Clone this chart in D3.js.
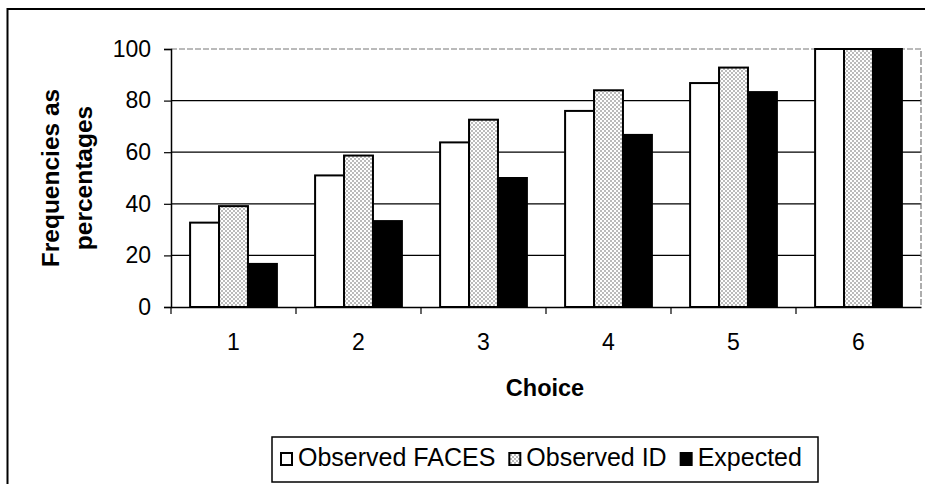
<!DOCTYPE html>
<html>
<head>
<meta charset="utf-8">
<script src="https://cdn.jsdelivr.net/npm/d3@7"></script>
<style>
    body { margin: 0; background: #fff; }
    svg { display: block; font-family: "Liberation Sans", Arial, sans-serif; }
</style>
</head>
<body>
<svg id="chart"></svg>
<script>
const choices = ["1", "2", "3", "4", "5", "6"];
const seriesNames = ["Observed FACES", "Observed ID", "Expected"];
const observedFaces = [32.7, 51, 63.8, 76, 86.8, 100];
const observedId = [39.1, 58.7, 72.6, 84, 92.8, 100];
const expected = [16.7, 33.3, 50, 66.7, 83.3, 100];
const yTicks = [0, 20, 40, 60, 80, 100];

const width = 925, height = 484;
const margin = { top: 49, right: 4, bottom: 176, left: 171 };

const svg = d3.select("#chart")
    .attr("width", width)
    .attr("height", height);

// dotted fill for "Observed ID"
const defs = svg.append("defs");
const pat = defs.append("pattern")
    .attr("id", "dots")
    .attr("patternUnits", "userSpaceOnUse")
    .attr("width", 4)
    .attr("height", 4);
pat.append("rect").attr("width", 4).attr("height", 4).attr("fill", "#fff");
pat.append("circle").attr("cx", 1).attr("cy", 1).attr("r", 0.75).attr("fill", "#555");
pat.append("circle").attr("cx", 3).attr("cy", 3).attr("r", 0.75).attr("fill", "#555");

const fills = ["#fff", "url(#dots)", "#000"];

// outer frame (only left and top edges show in the picture)
svg.append("path")
    .attr("d", `M7.5,${height + 2} V9 H${width + 2}`)
    .attr("fill", "none")
    .attr("stroke", "#000")
    .attr("stroke-width", 2);

const x = d3.scaleBand()
    .domain(choices)
    .range([margin.left, width - margin.right])
    .padding(0);

const inner = d3.scaleBand()
    .domain(seriesNames)
    .range([0, x.bandwidth()])
    .paddingInner(0)
    .paddingOuter(0.66);

const y = d3.scaleLinear()
    .domain([0, 100])
    .range([height - margin.bottom - 1, margin.top]);

// gridlines
svg.append("g")
    .selectAll("line")
    .data(yTicks.filter(d => d > 0 && d < 100))
    .join("line")
    .attr("x1", margin.left)
    .attr("x2", width - margin.right)
    .attr("y1", d => y(d))
    .attr("y2", d => y(d))
    .attr("stroke", "#000")
    .attr("stroke-width", 1.2);

// plot area top and right edge, greyish dashed
svg.append("path")
    .attr("d", `M${margin.left},${y(100)} H${width - margin.right} V${y(0)}`)
    .attr("fill", "none")
    .attr("stroke", "#777")
    .attr("stroke-width", 1.2)
    .attr("stroke-dasharray", "6,2");

// bars
const table = choices.map((c, i) => ({
    choice: c,
    values: [observedFaces[i], observedId[i], expected[i]]
}));

const groups = svg.append("g")
    .selectAll("g")
    .data(table)
    .join("g")
    .attr("transform", d => `translate(${x(d.choice)},0)`);

groups.selectAll("rect")
    .data(d => d.values.map((v, k) => ({ name: seriesNames[k], value: v, k })))
    .join("rect")
    .attr("x", d => inner(d.name))
    .attr("y", d => y(d.value))
    .attr("width", inner.bandwidth())
    .attr("height", d => y(0) - y(d.value))
    .attr("fill", d => fills[d.k])
    .attr("stroke", "#000")
    .attr("stroke-width", 2);

// y axis
const yAxis = svg.append("g")
    .attr("transform", `translate(${margin.left},0)`)
    .call(d3.axisLeft(y).tickValues(yTicks).tickSize(7).tickPadding(13));
yAxis.select(".domain").attr("stroke-width", 1.5);
yAxis.selectAll(".tick line").attr("stroke-width", 1.2);
yAxis.selectAll("text")
    .attr("font-size", "23px")
    .attr("font-family", "Liberation Sans, Arial, sans-serif")
    .attr("fill", "#000");

// x axis: labels centred, ticks on category boundaries
const xAxis = svg.append("g")
    .attr("transform", `translate(0,${y(0)})`)
    .call(d3.axisBottom(x).tickSize(0).tickPadding(27).tickSizeOuter(0));
xAxis.select(".domain").attr("stroke-width", 1.5);
xAxis.selectAll("text")
    .attr("font-size", "23px")
    .attr("font-family", "Liberation Sans, Arial, sans-serif")
    .attr("fill", "#000");

svg.append("g")
    .selectAll("line")
    .data(choices.map(c => x(c)))
    .join("line")
    .attr("x1", d => d)
    .attr("x2", d => d)
    .attr("y1", y(0))
    .attr("y2", y(0) + 7)
    .attr("stroke", "#000")
    .attr("stroke-width", 1.2);

// axis titles
svg.append("text")
    .attr("x", (margin.left + width - margin.right) / 2 - 1)
    .attr("y", 396)
    .attr("text-anchor", "middle")
    .attr("font-size", "23.5px")
    .attr("font-weight", "bold")
    .text("Choice");

const yTitle = svg.append("text")
    .attr("transform", `translate(59,${(y(0) + y(100)) / 2}) rotate(-90)`)
    .attr("text-anchor", "middle")
    .attr("font-size", "24.5px")
    .attr("font-weight", "bold");
yTitle.append("tspan").attr("x", 0).attr("dy", 0).text("Frequencies as");
yTitle.append("tspan").attr("x", 0).attr("dy", 33).text("percentages");

// legend
const legend = svg.append("g");
legend.append("rect")
    .attr("x", 272)
    .attr("y", 437)
    .attr("width", 546)
    .attr("height", 45)
    .attr("fill", "#fff")
    .attr("stroke", "#000")
    .attr("stroke-width", 1.5);

let lx = 281;
seriesNames.forEach((name, k) => {
    legend.append("rect")
        .attr("x", lx)
        .attr("y", 453)
        .attr("width", 11)
        .attr("height", 12)
        .attr("fill", fills[k])
        .attr("stroke", "#000")
        .attr("stroke-width", 2);
    const t = legend.append("text")
        .attr("x", lx + 17)
        .attr("y", 466)
        .attr("font-size", "25px")
        .text(name);
    lx += 17 + t.node().getComputedTextLength() + 14;
});
</script>
</body>
</html>
